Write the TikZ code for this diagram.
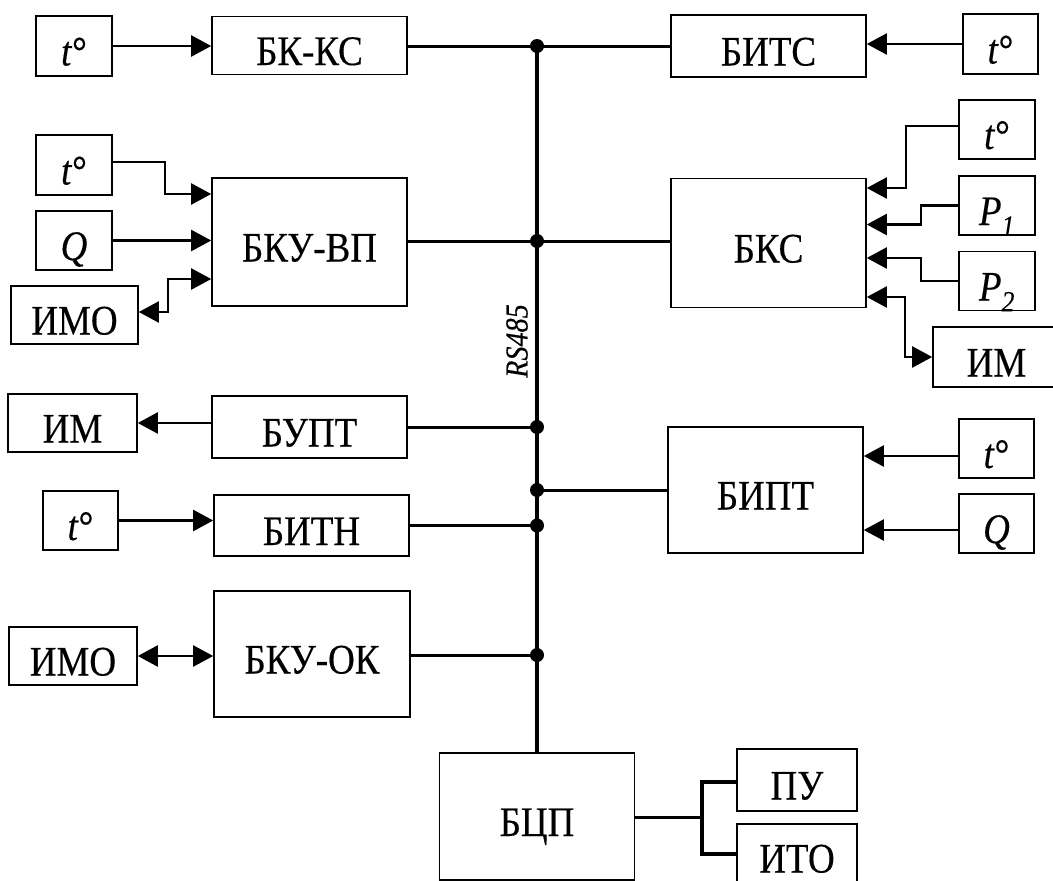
\documentclass[tikz,border=0pt]{standalone}
\usepackage{fontspec}
\setmainfont[FakeStretch=0.88,FakeBold=0.3]{Liberation Serif}
\usetikzlibrary{arrows.meta}
\newcommand{\lblfont}{\fontsize{42}{44}\selectfont}
\tikzset{
  blk/.style={draw, line width=1.6pt, inner sep=0pt, font=\lblfont, text height=39pt, text depth=0pt},
  arr/.style={line width=2.2pt, -{Triangle[length=20pt,width=21pt]}},
  darr/.style={line width=2.2pt, {Triangle[length=20pt,width=21pt]}-{Triangle[length=20pt,width=21pt]}},
  tie/.style={line width=3pt},
  busline/.style={line width=4pt},
  fork/.style={line width=4pt},
  dotc/.style={fill=black}
}
\begin{document}
\begin{tikzpicture}[x=1pt,y=-1pt]
\useasboundingbox (0,0) rectangle (1053,881);
\clip (0,0) rectangle (1053,881);
% nodes left column
\node[blk, minimum width=76pt, minimum height=60pt] (t1) at (74,46) {\textit{t}°};
\node[blk, minimum width=195pt, minimum height=58pt] (bkks) at (309.5,45.5) {БК-КС};
\node[blk, minimum width=195pt, minimum height=62pt] (bits) at (768.5,46) {БИТС};
\node[blk, minimum width=75pt, minimum height=60pt] (t5) at (1000.5,44) {\textit{t}°};

\node[blk, minimum width=76pt, minimum height=60pt] (t2) at (74,165) {\textit{t}°};
\node[blk, minimum width=76pt, minimum height=59pt] (q1) at (74,240.5) {\textit{Q}};
\node[blk, minimum width=127pt, minimum height=58pt] (imo1) at (74.5,315) {ИМО};
\node[blk, minimum width=195pt, minimum height=128pt] (bkvp) at (309.5,242) {БКУ-ВП};

\node[blk, minimum width=195pt, minimum height=129pt] (bks) at (768.5,243) {БКС};
\node[blk, minimum width=76pt, minimum height=59pt] (t3) at (997,129.5) {\textit{t}°};
\node[blk, minimum width=76pt, minimum height=59pt] (p1) at (997,205.5) {\textit{P}\textsubscript{\textit{1}}};
\node[blk, minimum width=76pt, minimum height=59pt] (p2) at (997,281) {\textit{P}\textsubscript{\textit{2}}};
\node[blk, minimum width=127pt, minimum height=60pt] (im2) at (996.5,357) {ИМ};

\node[blk, minimum width=129pt, minimum height=58pt] (im1) at (72.5,423) {ИМ};
\node[blk, minimum width=195pt, minimum height=62pt] (bupt) at (309.5,427) {БУПТ};
\node[blk, minimum width=195pt, minimum height=126pt] (bipt) at (765.5,490) {БИПТ};
\node[blk, minimum width=75pt, minimum height=59pt] (t6) at (996.5,448.5) {\textit{t}°};
\node[blk, minimum width=75pt, minimum height=59pt] (q2) at (996.5,523.5) {\textit{Q}};
\node[blk, minimum width=75pt, minimum height=59pt] (t4) at (80.5,520.5) {\textit{t}°};
\node[blk, minimum width=195pt, minimum height=61pt] (bitn) at (311.5,525.5) {БИТН};
\node[blk, minimum width=128pt, minimum height=58pt] (imo2) at (73,656) {ИМО};
\node[blk, minimum width=196pt, minimum height=126pt] (bkok) at (312,654) {БКУ-ОК};

\node[blk, minimum width=195pt, minimum height=127pt] (bcp) at (537,816.5) {БЦП};
\node[blk, minimum width=120pt, minimum height=62pt] (pu) at (797,780) {ПУ};
\node[blk, minimum width=120pt, minimum height=58pt] (ito) at (797,853) {ИТО};

\node[rotate=90, font=\itshape\fontsize{32}{34}\selectfont] (rs) at (517,341) {RS485};

% junctions on the bus
\coordinate (j1) at (537,46);
\coordinate (j2) at (537,241);
\coordinate (j3) at (537,427);
\coordinate (j4) at (537,490);
\coordinate (j5) at (537,525.5);
\coordinate (j6) at (537,655);
\coordinate (br) at (702,817);

% bus
\draw[busline] (j1) -- (bcp.north);
\draw[tie] (bkks.east |- j1) -- (j1);
\draw[tie] (j1) -- (j1 -| bits.west);
\draw[tie] (bkvp.east |- j2) -- (j2);
\draw[tie] (j2) -- (j2 -| bks.west);
\draw[tie] (bupt.east) -- (j3);
\draw[tie] (j4) -- (bipt.west);
\draw[tie] (bitn.east) -- (j5);
\draw[tie] (bkok.east |- j6) -- (j6);
\foreach \j in {j1,j2,j3,j4,j5,j6} \fill[dotc] (\j) circle (7);

% row 1
\draw[arr] (t1.east) -- (t1.east -| bkks.west);
\draw[arr] (t5.west) -- (bits.east |- t5.west);

% БКУ-ВП inputs
\draw[arr] ([yshift=3pt]t2.east) -- ++(52,0) |- ([yshift=48pt]bkvp.west);
\draw[arr] (q1.east) -- (q1.east -| bkvp.west);
\draw[darr] ([yshift=3pt]imo1.east) -- ++(29,0) |- ([yshift=-37pt]bkvp.west);

% БКС inputs
\draw[arr] ([yshift=3.5pt]t3.west) -- ++(-52,0) |- ([yshift=55pt]bks.east);
\draw[arr] (p1.west) -- ++(-37,0) |- ([yshift=18.5pt]bks.east);
\draw[arr] (p2.west) -- ++(-37,0) |- ([yshift=-15pt]bks.east);
\draw[darr] ([yshift=-54pt]bks.east) -- ++(38,0) |- (im2.west);

% row 3
\draw[arr] (bupt.west |- im1.east) -- (im1.east);
\draw[arr] ([yshift=-7.5pt]t6.west) -- ([yshift=-7.5pt]t6.west -| bipt.east);
\draw[arr] ([yshift=-6.5pt]q2.west) -- ([yshift=-6.5pt]q2.west -| bipt.east);
\draw[arr] (t4.east) -- (t4.east -| bitn.west);
\draw[darr] (imo2.east) -- (imo2.east -| bkok.west);

% БЦП outputs
\draw[tie] (bcp.east |- br) -- (br);
\draw[fork] ([yshift=-2pt]pu.west) -| ([yshift=-1pt]ito.west -| br) -- ([yshift=-1pt]ito.west);
\end{tikzpicture}
\end{document}
